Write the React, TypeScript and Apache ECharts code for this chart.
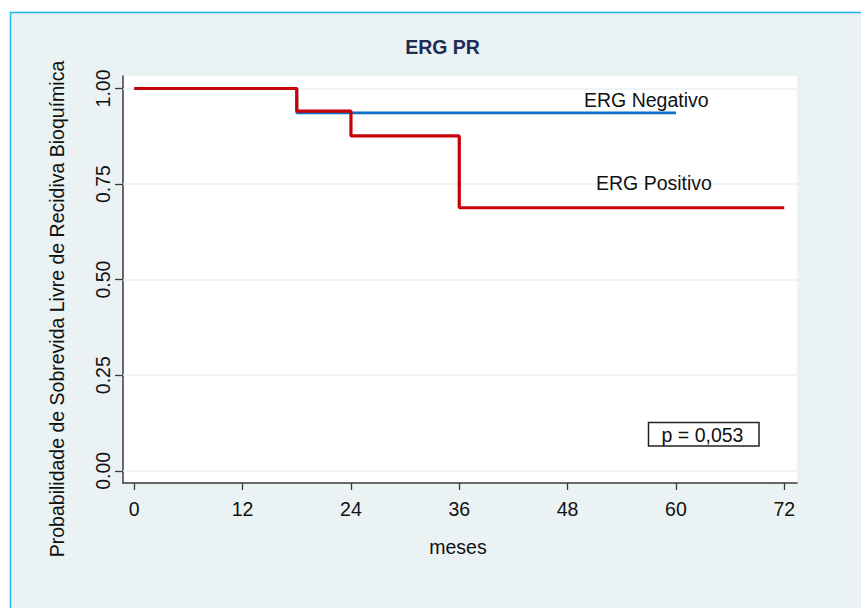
import React, { useEffect, useRef } from "react";
import * as echarts from "echarts";

const xTicks = [0, 12, 24, 36, 48, 60, 72];
const yTicks = [0, 0.25, 0.5, 0.75, 1.0];

const negTimes = [0, 18, 60];
const negSurv = [1.0, 0.936, 0.936];

const posTimes = [0, 18, 24, 36, 72];
const posSurv = [1.0, 0.941, 0.876, 0.688, 0.688];

const titleText = "ERG PR";
const yTitle = "Probabilidade de Sobrevida Livre de Recidiva Bioquímica";
const xTitle = "meses";
const negLabel = "ERG Negativo";
const posLabel = "ERG Positivo";
const pText = "p = 0,053";

const FONT = "'Liberation Sans', Arial, sans-serif";
const FS = 19.5;

export default function App() {
  const ref = useRef<HTMLDivElement>(null);

  useEffect(() => {
    if (!ref.current) return;
    const chart = echarts.init(ref.current, undefined, { renderer: "svg" });

    const negData = negTimes.map((t, i) => [t, negSurv[i]]);
    const posData = posTimes.map((t, i) => [t, posSurv[i]]);

    const option: any = {
      animation: false,
      backgroundColor: "#ffffff",
      textStyle: { fontFamily: FONT },
      grid: {
        left: 123,
        top: 76,
        width: 674,
        height: 407,
        show: true,
        backgroundColor: "#ffffff",
        borderWidth: 0,
        containLabel: false,
      },
      xAxis: {
        type: "value",
        min: -1.25,
        max: 73.41,
        axisLine: { show: true, onZero: false, lineStyle: { color: "#3a3a3a", width: 1.5 } },
        axisTick: { show: true, length: 7, customValues: xTicks, lineStyle: { color: "#3a3a3a", width: 1.3 } },
        axisLabel: {
          show: true,
          customValues: xTicks,
          margin: 16,
          fontSize: FS,
          color: "#111",
          fontFamily: FONT,
        },
        splitLine: { show: false },
      },
      yAxis: {
        type: "value",
        min: -0.032,
        max: 1.0327,
        axisLine: { show: true, onZero: false, lineStyle: { color: "#3a3a3a", width: 1.5 } },
        axisTick: { show: true, length: 8, customValues: yTicks, lineStyle: { color: "#3a3a3a", width: 1.3 } },
        axisLabel: {
          show: true,
          customValues: yTicks,
          rotate: 90,
          margin: 10,
          fontSize: FS,
          color: "#111",
          fontFamily: FONT,
          formatter: (v: number) => v.toFixed(2),
        },
        splitLine: { show: false },
      },
      series: [
        {
          type: "line",
          name: "grid",
          data: [],
          z: 1,
          silent: true,
          markLine: {
            silent: true,
            z: 1,
            symbol: ["none", "none"],
            label: { show: false },
            lineStyle: { color: "#EAF2F3", width: 1.5, type: "solid" },
            data: yTicks.map((v) => ({ yAxis: v })),
          },
        },
        {
          type: "line",
          name: negLabel,
          data: negData,
          step: "end",
          showSymbol: false,
          symbol: "none",
          z: 3,
          lineStyle: { color: "#0A72C6", width: 2.8 },
        },
        {
          type: "line",
          name: posLabel,
          data: posData,
          step: "end",
          showSymbol: false,
          symbol: "none",
          z: 4,
          lineStyle: { color: "#C8000A", width: 3.2 },
        },
      ],
      graphic: [
        {
          type: "rect",
          z: -10,
          silent: true,
          shape: { x: 10.5, y: 12.5, width: 900, height: 700 },
          style: { fill: "#EAF2F3", stroke: "#1FB4EE", lineWidth: 1.5 },
        },
        {
          type: "text",
          x: 442.5,
          y: 46.5,
          style: {
            text: titleText,
            font: `bold ${FS}px ${FONT}`,
            fill: "#1E2D52",
            textAlign: "center",
            textVerticalAlign: "middle",
          },
        },
        {
          type: "text",
          x: 56.5,
          y: 309,
          rotation: Math.PI / 2,
          style: {
            text: yTitle,
            font: `${FS}px ${FONT}`,
            fill: "#111",
            textAlign: "center",
            textVerticalAlign: "middle",
          },
        },
        {
          type: "text",
          x: 458,
          y: 546.5,
          style: {
            text: xTitle,
            font: `${FS}px ${FONT}`,
            fill: "#111",
            textAlign: "center",
            textVerticalAlign: "middle",
          },
        },
        {
          type: "text",
          x: 584,
          y: 100,
          z: 10,
          style: {
            text: negLabel,
            font: `${FS}px ${FONT}`,
            fill: "#111",
            textAlign: "left",
            textVerticalAlign: "middle",
          },
        },
        {
          type: "text",
          x: 596,
          y: 183.3,
          z: 10,
          style: {
            text: posLabel,
            font: `${FS}px ${FONT}`,
            fill: "#111",
            textAlign: "left",
            textVerticalAlign: "middle",
          },
        },
        {
          type: "rect",
          z: 10,
          shape: { x: 648.5, y: 422.5, width: 110.5, height: 23.5 },
          style: { fill: "#ffffff", stroke: "#222", lineWidth: 1.5 },
        },
        {
          type: "text",
          x: 702.5,
          y: 435,
          z: 11,
          style: {
            text: pText,
            font: `${FS}px ${FONT}`,
            fill: "#111",
            textAlign: "center",
            textVerticalAlign: "middle",
          },
        },
      ],
    };

    chart.setOption(option);
    return () => {
      chart.dispose();
    };
  }, []);

  return (
    <div
      ref={ref}
      style={{ position: "absolute", left: 0, top: 0, width: 861, height: 608 }}
    />
  );
}
